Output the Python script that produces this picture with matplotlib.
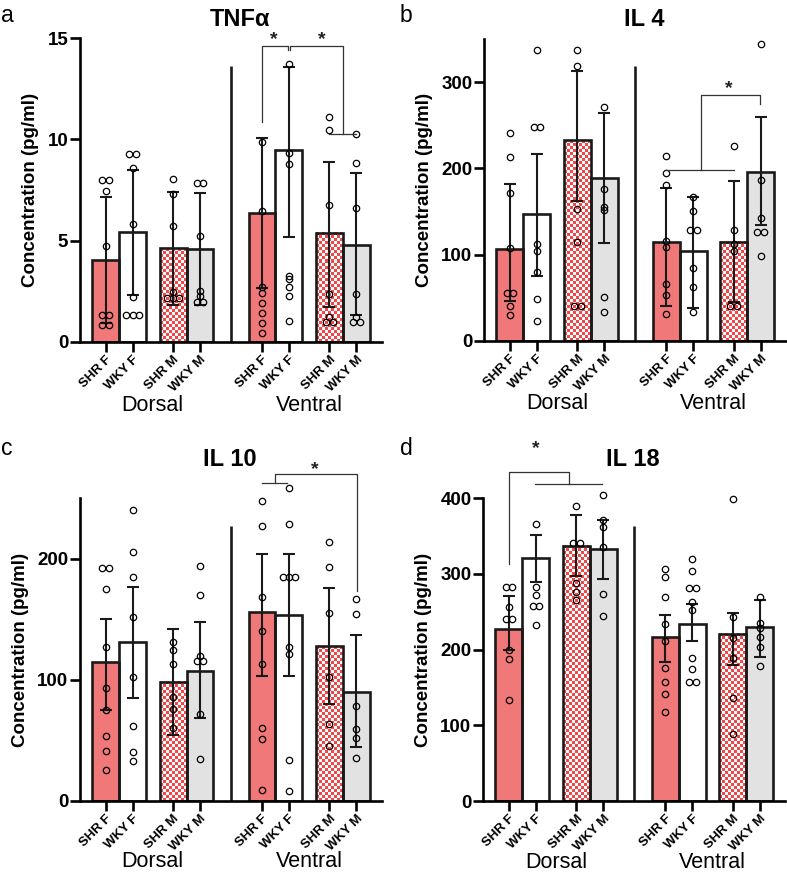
import numpy as np
import matplotlib
matplotlib.use("Agg")
import matplotlib.pyplot as plt
from matplotlib.colors import to_rgb
from matplotlib.transforms import blended_transform_factory

plt.rcParams.update({
    "font.family": ["Liberation Sans", "DejaVu Sans"],
    "axes.linewidth": 1.9,
    "xtick.major.width": 1.9,
    "ytick.major.width": 1.9,
    "xtick.major.size": 7,
    "ytick.major.size": 7,
    "xtick.major.pad": 1.5,
    "ytick.major.pad": 1.5,
})

GROUPS = ["SHR F", "WKY F", "SHR M", "WKY M"]
REGIONS = ["Dorsal", "Ventral"]
XPOS = [0, 1, 2.5, 3.5, 5.8, 6.8, 8.3, 9.3]

# order: Dorsal SHR F, WKY F, SHR M, WKY M, Ventral SHR F, WKY F, SHR M, WKY M
tnf_mean = [4.04, 5.41, 4.62, 4.58, 6.35, 9.48, 5.39, 4.78]
tnf_lo = [0.91, 2.31, 1.82, 1.81, 2.65, 5.16, 1.73, 1.32]
tnf_hi = [7.17, 8.49, 7.42, 7.37, 10.05, 13.6, 8.9, 8.36]
tnf_pts = [
    [7.98, 7.98, 7.45, 4.75, 1.3, 1.3, 0.82, 0.82],
    [9.26, 9.26, 8.6, 5.8, 2.23, 1.3, 1.3, 1.3],
    [8.03, 7.29, 5.74, 2.44, 2.14, 2.14, 2.14],
    [7.86, 7.86, 5.24, 2.52, 2.26, 1.95, 1.95],
    [9.89, 6.48, 2.69, 2.39, 1.93, 1.4, 0.94, 0.41],
    [13.71, 9.35, 8.8, 3.26, 3.08, 2.72, 2.27, 1.04],
    [11.13, 10.47, 6.76, 2.36, 1.24, 0.95, 0.95],
    [10.25, 8.82, 6.61, 2.36, 1.2, 0.99, 0.99],
]

il4_mean = [106, 147, 232.6, 188.8, 115, 104, 115, 196]
il4_lo = [46, 75, 162, 114, 40, 37.6, 45, 134]
il4_hi = [182, 217, 313, 264, 177, 167, 185, 260]
il4_pts = [
    [241, 213, 171, 108, 55, 55, 40, 30],
    [337, 248, 248, 112, 104, 80, 49, 23],
    [337, 319, 153, 115, 40, 40],
    [271, 176, 155, 152, 51, 33],
    [215, 195, 181, 116, 109, 66, 53, 31],
    [167, 151, 129, 129, 85, 62, 33],
    [226, 129, 112, 104, 40, 40],
    [344, 187, 143, 126, 126, 98],
]

il10_mean = [115, 131, 98.5, 107, 155.6, 153.6, 128, 89.7]
il10_lo = [75, 85, 54, 68, 103, 103, 80, 44.7]
il10_hi = [150, 177, 142, 148, 204, 204, 176, 137]
il10_pts = [
    [192.6, 192.6, 175, 127, 93, 75, 53.5, 41, 25],
    [240.6, 205.5, 185, 152, 102, 62, 40.5, 33],
    [131.6, 124.7, 113, 85.5, 76, 60],
    [194, 170, 120, 115.6, 115.6, 72, 34.5],
    [247.4, 227, 168, 140, 113, 60, 51, 8.8],
    [258.5, 228.7, 185, 185, 185, 127, 121, 33.7, 8.3],
    [214, 193, 155, 102, 63, 45],
    [166.6, 154, 78, 59, 51.6, 35],
]

il18_mean = [227, 321.6, 337, 333, 217, 234, 220.7, 229.5]
il18_lo = [199.5, 289, 297, 293, 184, 211, 179.7, 190.7]
il18_hi = [271, 351.5, 378, 371, 245.8, 260, 248, 265]
il18_pts = [
    [283, 283, 257, 240, 240, 200, 187, 134],
    [365.6, 283, 272, 258, 258, 232.6],
    [390, 341, 341, 288, 276, 265],
    [404, 371, 362, 336, 273, 245],
    [306, 295.6, 269, 234, 212, 176, 157.7, 141, 118],
    [320, 304, 281, 281, 262.6, 253, 189, 174, 157, 157],
    [398.7, 243.6, 216, 189, 135.7, 88.5],
    [269, 235.7, 228, 217, 204, 179],
]

# significance brackets: (left x, left foot, top y, right x, right foot), group lines, stars
tnf_brackets = [(5.8, 10.88, 14.62, 6.75, 14.42), (6.85, 14.42, 14.62, 8.8, 10.25)]
tnf_lines = [(8.3, 9.3, 10.25)]
tnf_stars = [(6.23, 15.16), (8.02, 15.16)]

il4_brackets = [(7.1, 197.7, 285.7, 9.26, 275)]
il4_lines = [(5.8, 8.3, 197.7)]
il4_stars = [(8.12, 299)]

il10_brackets = [(6.28, 262.6, 270, 9.33, 173)]
il10_lines = [(5.81, 6.74, 262.6)]
il10_stars = [(7.77, 277.8)]

il18_brackets = [(0.0, 313, 435, 2.22, 419)]
il18_lines = [(0.95, 3.46, 419)]
il18_stars = [(0.99, 472)]

RED = "#F07878"
GRAY = "#E3E2E3"
CHECK = "#F04848"
FACES = [RED, "white", None, GRAY]

W, H = 787, 873
fig = plt.figure(figsize=(W / 100, H / 100), dpi=100)


def swarm(vals, px_per_unit):
    order = np.argsort(vals)[::-1]
    v = np.asarray(vals, float)[order]
    rows = []
    for val in v:
        if rows and abs(rows[-1][0] - val) * px_per_unit < 2.0:
            rows[-1].append(val)
        else:
            rows.append([val])
    xs, ys = [], []
    for r in rows:
        n = len(r)
        for i, val in enumerate(r):
            xs.append((i - (n - 1) / 2) * 0.24)
            ys.append(val)
    return np.array(xs), np.array(ys)


def panel(rect, letter, title, title_xy, ymax, yticks, mean, lo, hi, pts,
          brackets, lines, stars, region_y):
    ax = fig.add_axes(rect)
    ax.set_xlim(-0.95, 10.25)
    ax.set_ylim(0, ymax)
    for s in ["top", "right"]:
        ax.spines[s].set_visible(False)

    px_per_unit = rect[3] * H / ymax
    for i, x in enumerate(XPOS):
        face = FACES[i % 4]
        bar = ax.bar(x, mean[i], width=1.0, color=face if face else "white",
                     edgecolor="none", zorder=1)[0]
        if face is None:
            # checkered fill for the SHR M bars
            p0 = ax.transData.transform((x - 0.5, 0))
            p1 = ax.transData.transform((x + 0.5, mean[i]))
            nx = max(1, int(round((p1[0] - p0[0]) / 3)))
            ny = max(1, int(round((p1[1] - p0[1]) / 3)))
            grid = np.add.outer(np.arange(ny), np.arange(nx)) % 2
            img = np.where(grid[..., None] == 0, to_rgb(CHECK), (1, 1, 1))
            ax.imshow(img, extent=(x - 0.5, x + 0.5, 0, mean[i]), aspect="auto",
                      interpolation="nearest", zorder=1.5, clip_path=bar)
        ax.bar(x, mean[i], width=1.0, color="none", edgecolor="#1a1a1a",
               linewidth=1.9, zorder=2)
        ax.errorbar(x, mean[i], yerr=[[mean[i] - lo[i]], [hi[i] - mean[i]]],
                    fmt="none", ecolor="#1a1a1a", elinewidth=1.5, capsize=4.5,
                    capthick=1.5, zorder=3)
        dx, yy = swarm(pts[i], px_per_unit)
        ax.plot(x + dx, yy, "o", ms=4.6, mfc="none", mec="black", mew=0.9,
                zorder=4, clip_on=False)

    ax.set_xlim(-0.95, 10.25)
    ax.set_ylim(0, ymax)
    ax.set_yticks(yticks)
    ax.set_yticklabels([str(t) for t in yticks], fontsize=13.5, fontweight="bold")
    ax.set_xticks(XPOS)
    ax.set_xticklabels(GROUPS * 2, rotation=45, ha="right", va="top",
                       rotation_mode="anchor", fontsize=9.5, fontweight="bold")
    ax.set_ylabel("Concentration (pg/ml)", fontsize=13.5, fontweight="bold",
                  labelpad=6)

    tr = blended_transform_factory(ax.transData, ax.transAxes)
    # region separator
    ax.plot([4.65, 4.65], [0, 0.91], color="#1a1a1a", lw=1.9, transform=tr,
            clip_on=False, solid_capstyle="butt")

    ax.text(1.75, region_y, REGIONS[0], transform=tr, ha="center",
            va="baseline", fontsize=15.5)
    ax.text(7.55, region_y, REGIONS[1], transform=tr, ha="center",
            va="baseline", fontsize=15.5)

    for x1, y1, ytop, x2, y2 in brackets:
        ax.plot([x1, x1, x2, x2], [y1, ytop, ytop, y2], color="#333333",
                lw=0.9, clip_on=False, zorder=5)
    for x1, x2, y in lines:
        ax.plot([x1, x2], [y, y], color="#333333", lw=0.9, clip_on=False, zorder=5)
    for sx, sy in stars:
        ax.annotate("*", (sx, sy), xytext=(0, -3.5), textcoords="offset points",
                    ha="center", va="center", fontsize=14, fontweight="bold",
                    color="#222222", annotation_clip=False)

    fig.text(letter[1] / W, 1 - letter[2] / H, letter[0], fontsize=16.5,
             va="baseline", ha="left")
    fig.text(title_xy[0] / W, 1 - title_xy[1] / H, title, fontsize=17,
             fontweight="bold", ha="center", va="baseline")
    return ax


panel([80 / W, 1 - 341.7 / H, 302 / W, 303.4 / H], ("a", 1, 21.7), "TNFα",
      (240, 26), 15, [0, 5, 10, 15], tnf_mean, tnf_lo, tnf_hi, tnf_pts,
      tnf_brackets, tnf_lines, tnf_stars, -0.228)
panel([484.3 / W, 1 - 340.7 / H, 302 / W, 301.4 / H], ("b", 400, 21.7), "IL 4",
      (644, 26), 350, [0, 100, 200, 300], il4_mean, il4_lo, il4_hi, il4_pts,
      il4_brackets, il4_lines, il4_stars, -0.228)
panel([80 / W, 1 - 800.7 / H, 302 / W, 302.4 / H], ("c", 1, 455), "IL 10",
      (230, 466), 250, [0, 100, 200], il10_mean, il10_lo, il10_hi, il10_pts,
      il10_brackets, il10_lines, il10_stars, -0.22)
panel([483.3 / W, 1 - 801 / H, 302 / W, 302.7 / H], ("d", 400, 455), "IL 18",
      (633, 466), 400, [0, 100, 200, 300, 400], il18_mean, il18_lo, il18_hi,
      il18_pts, il18_brackets, il18_lines, il18_stars, -0.22)

fig.savefig("out.png", dpi=100)
